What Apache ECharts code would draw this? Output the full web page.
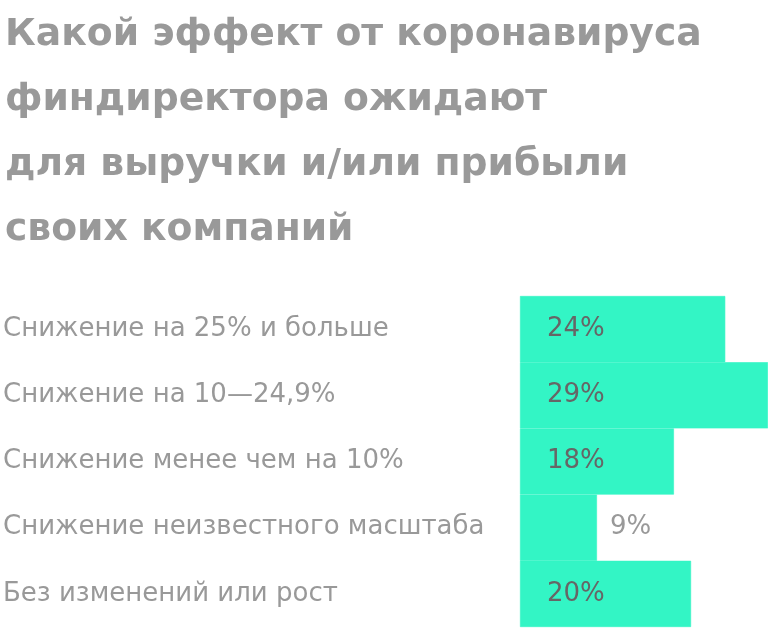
<!DOCTYPE html>
<html>
<head>
<meta charset="utf-8">
<script src="https://cdn.jsdelivr.net/npm/echarts@6/dist/echarts.min.js"></script>
<style>
  html, body { margin: 0; padding: 0; background: #fff; }
  #main { width: 768px; height: 628px; }
</style>
</head>
<body>
<div id="main"></div>
<script>
// 数据
var titleLines = ['Какой эффект от коронавируса', 'финдиректора ожидают', 'для выручки и/или прибыли', 'своих компаний'];
var categories = ['Снижение на 25% и больше', 'Снижение на 10—24,9%', 'Снижение менее чем на 10%', 'Снижение неизвестного масштаба', 'Без изменений или рост'];
var values = [24, 29, 18, 9, 20];

var myChart = echarts.init(document.getElementById('main'));

var option = {
    animation: false,
    title: {
        text: titleLines.join('\n'),
        left: 0,
        top: -2,
        textStyle: {
            fontFamily: 'DejaVu Sans',
            fontSize: 37.7,
            fontWeight: 'bold',
            color: '#999999',
            lineHeight: 65
        }
    },
    grid: {
        left: 519,
        right: 0,
        top: 296,
        bottom: 1
    },
    xAxis: {
        type: 'value',
        min: 0,
        max: 29,
        show: false
    },
    yAxis: {
        type: 'category',
        inverse: true,
        data: categories,
        axisLine: { show: false },
        axisTick: { show: false },
        splitLine: { show: false },
        axisLabel: {
            align: 'left',
            margin: 517,
            fontFamily: 'DejaVu Sans',
            fontSize: 26,
            color: '#999999'
        }
    },
    series: [{
        type: 'bar',
        barCategoryGap: 0,
        data: values.map(function (v) {
            var small = v < 10; // 小值标签放在柱外
            return {
                value: v,
                label: {
                    position: small ? 'right' : 'insideLeft',
                    distance: small ? 13 : 27,
                    color: small ? '#999999' : '#666666'
                }
            };
        }),
        itemStyle: { color: '#33f5c5', borderColor: '#33f5c5', borderWidth: 0.6 },
        label: {
            show: true,
            formatter: '{c}%',
            fontFamily: 'DejaVu Sans',
            fontSize: 26
        }
    }]
};

myChart.setOption(option);
</script>
</body>
</html>
